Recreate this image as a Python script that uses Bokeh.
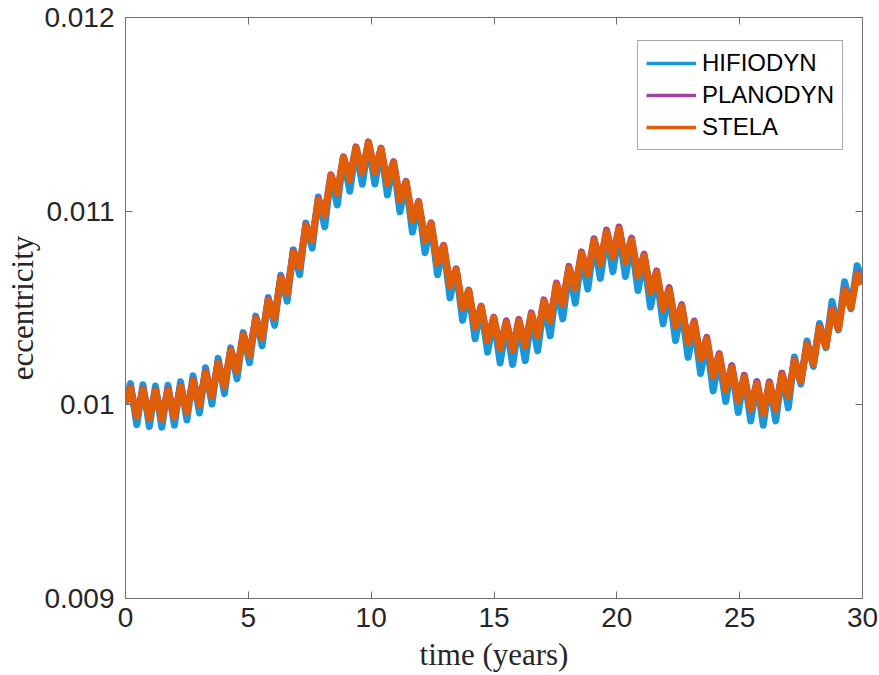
import numpy as np
from bokeh.plotting import figure
from bokeh.models import (FixedTicker, LinearAxis, Legend, LegendItem, Range1d,
                          CustomLabelingPolicy)
from bokeh.embed import file_html
from bokeh.resources import INLINE

# ---------------- data ----------------
# sample times (years) at the start, at each extremum of the ~half-year oscillation, and at the end
time_years = [0.00, 0.20, 0.46, 0.71, 0.97, 1.22, 1.48, 1.73, 1.99, 2.24, 2.50, 2.75, 3.01, 3.26, 3.52,
              3.77, 4.03, 4.28, 4.54, 4.79, 5.05, 5.30, 5.56, 5.81, 6.07, 6.32, 6.58, 6.83, 7.09, 7.34,
              7.60, 7.85, 8.11, 8.36, 8.62, 8.87, 9.13, 9.38, 9.64, 9.89, 10.15, 10.40, 10.66, 10.91,
              11.17, 11.42, 11.68, 11.93, 12.19, 12.44, 12.70, 12.95, 13.21, 13.46, 13.72, 13.97, 14.23,
              14.48, 14.74, 14.99, 15.25, 15.50, 15.76, 16.01, 16.27, 16.52, 16.78, 17.03, 17.29, 17.54,
              17.80, 18.05, 18.31, 18.56, 18.82, 19.07, 19.33, 19.58, 19.84, 20.09, 20.35, 20.60, 20.86,
              21.11, 21.37, 21.62, 21.88, 22.13, 22.39, 22.64, 22.90, 23.15, 23.41, 23.66, 23.92, 24.17,
              24.43, 24.68, 24.94, 25.19, 25.45, 25.70, 25.96, 26.21, 26.47, 26.72, 26.98, 27.23, 27.49,
              27.74, 28.00, 28.25, 28.51, 28.76, 29.02, 29.27, 29.53, 29.78, 30.00]

# eccentricity values in units of 1e-6
hifiodyn_e6 = [10007,
    10110, 9897, 10104, 9888, 10097, 9885, 10101, 9895, 10119, 9922,
    10150, 9958, 10191, 10004, 10240, 10058, 10294, 10134, 10373, 10217,
    10458, 10305, 10554, 10410, 10669, 10535, 10801, 10672, 10939, 10809,
    11073, 10919, 11183, 11032, 11276, 11103, 11327, 11139, 11353, 11140,
    11321, 11084, 11251, 10997, 11149, 10892, 11046, 10786, 10935, 10672,
    10819, 10553, 10697, 10437, 10588, 10341, 10505, 10272, 10448, 10216,
    10412, 10208, 10419, 10228, 10453, 10279, 10520, 10357, 10607, 10444,
    10693, 10525, 10768, 10598, 10836, 10653, 10880, 10688, 10896, 10663,
    10839, 10590, 10756, 10505, 10670, 10418, 10583, 10332, 10496, 10245,
    10411, 10162, 10326, 10072, 10243, 10017, 10202, 9960, 10152, 9917,
    10119, 9895, 10118, 9917, 10163, 9985, 10247, 10107, 10330, 10198,
    10420, 10295, 10534, 10387, 10636, 10496, 10718,
    10645]

planodyn_e6 = [10016,
    10089, 9940, 10083, 9931, 10076, 9928, 10080, 9938, 10098, 9965,
    10129, 10001, 10170, 10047, 10219, 10100, 10284, 10176, 10363, 10259,
    10448, 10347, 10544, 10452, 10659, 10577, 10791, 10714, 10929, 10851,
    11063, 10981, 11188, 11094, 11281, 11165, 11332, 11201, 11358, 11202,
    11326, 11146, 11256, 11059, 11154, 10954, 11051, 10848, 10940, 10734,
    10824, 10615, 10702, 10499, 10593, 10403, 10510, 10334, 10453, 10293,
    10434, 10285, 10441, 10305, 10475, 10356, 10542, 10434, 10629, 10521,
    10715, 10602, 10790, 10675, 10858, 10730, 10902, 10765, 10918, 10740,
    10861, 10667, 10778, 10582, 10692, 10495, 10605, 10409, 10518, 10322,
    10433, 10239, 10348, 10149, 10265, 10079, 10202, 10022, 10152, 9979,
    10119, 9957, 10118, 9979, 10163, 10047, 10232, 10124, 10315, 10215,
    10405, 10302, 10494, 10394, 10596, 10503, 10678,
    10627]

stela_e6 = [10015,
    10084, 9938, 10078, 9929, 10071, 9926, 10075, 9936, 10093, 9963,
    10124, 9999, 10165, 10045, 10214, 10098, 10279, 10174, 10358, 10257,
    10443, 10345, 10539, 10450, 10654, 10575, 10786, 10712, 10924, 10849,
    11058, 10979, 11183, 11092, 11276, 11163, 11327, 11199, 11353, 11200,
    11321, 11144, 11251, 11057, 11149, 10952, 11046, 10846, 10935, 10732,
    10819, 10613, 10697, 10497, 10588, 10401, 10505, 10332, 10448, 10291,
    10424, 10283, 10431, 10303, 10465, 10354, 10532, 10432, 10619, 10519,
    10705, 10600, 10780, 10673, 10848, 10728, 10892, 10763, 10908, 10738,
    10851, 10665, 10768, 10580, 10682, 10493, 10595, 10407, 10508, 10320,
    10423, 10237, 10338, 10147, 10255, 10077, 10192, 10020, 10142, 9977,
    10109, 9955, 10108, 9977, 10153, 10045, 10227, 10122, 10310, 10213,
    10400, 10300, 10489, 10392, 10591, 10501, 10673,
    10625]

series_names = ["HIFIODYN", "PLANODYN", "STELA"]
x_ticks = [0, 5, 10, 15, 20, 25, 30]
y_ticks = [0.009, 0.010, 0.011, 0.012]
y_tick_labels = ["0.009", "0.01", "0.011", "0.012"]

# ---------------- styling ----------------
colors = ["#1a97d8", "#a2449f", "#e05e08"]
axis_col = "#6f6f6f"
text_col = "#262626"
tick_font = "Liberation Sans"

t = np.array(time_years)
series = [np.array(hifiodyn_e6) * 1e-6, np.array(planodyn_e6) * 1e-6, np.array(stela_e6) * 1e-6]

p = figure(width=879, height=675, x_range=Range1d(0, 30), y_range=Range1d(0.009, 0.012),
           output_backend="svg", toolbar_location=None,
           min_border_left=125, min_border_right=17, min_border_top=17, min_border_bottom=77,
           x_axis_label="time (years)", y_axis_label="eccentricity")
p.xgrid.visible = False
p.ygrid.visible = False
p.outline_line_color = axis_col
p.outline_line_width = 1
p.background_fill_color = "white"
p.border_fill_color = "white"

# thin copies used only as legend samples (fully hidden beneath the data lines)
leg_r = [p.line(t, ys, line_color=c, line_width=3.5) for ys, c in zip(series, colors)]
for ys, c in zip(series, colors):
    p.line(t, ys, line_color=c, line_width=7, line_join="round")

def style_axis(ax, ticks):
    ax.ticker = FixedTicker(ticks=ticks)
    ax.axis_line_color = axis_col
    ax.major_tick_line_color = axis_col
    ax.major_tick_in = 7
    ax.major_tick_out = 0
    ax.minor_tick_line_color = None
    ax.major_label_text_font = tick_font
    ax.major_label_text_font_size = "28px"
    ax.major_label_text_color = text_col
    ax.axis_label_text_font = "Liberation Serif"
    ax.axis_label_text_font_style = "normal"
    ax.axis_label_text_font_size = "31px"
    ax.axis_label_text_color = text_col

xa = p.xaxis[0]
ya = p.yaxis[0]
style_axis(xa, x_ticks)
style_axis(ya, y_ticks)
xa.major_label_standoff = 9
xa.axis_label_standoff = 7
ya.major_label_standoff = 11
ya.axis_label_standoff = 1
ya.major_label_overrides = {v: s for v, s in zip(y_ticks, y_tick_labels)}

# mirrored tick marks on top and right (box on), without labels
no_labels = CustomLabelingPolicy(code="""
try { for (const i of Array.from(indices)) { indices.unset(i) } } catch (e) {}
return indices
""")
top_ax = LinearAxis()
style_axis(top_ax, x_ticks)
top_ax.major_label_standoff = 0
top_ax.major_label_text_font_size = "0px"
top_ax.major_label_policy = no_labels
p.add_layout(top_ax, "above")
right_ax = LinearAxis()
style_axis(right_ax, y_ticks)
right_ax.major_label_standoff = 0
right_ax.major_label_text_font_size = "0px"
right_ax.major_label_policy = no_labels
p.add_layout(right_ax, "right")

legend = Legend(items=[LegendItem(label=n, renderers=[r]) for n, r in zip(series_names, leg_r)],
                location=(512, 448), orientation="vertical",
                label_text_font=tick_font, label_text_font_size="24px", label_text_color="black",
                glyph_width=50, glyph_height=24, label_height=24, label_standoff=6,
                spacing=4, padding=8, margin=0,
                border_line_color="#555555", border_line_width=1,
                background_fill_color="white", background_fill_alpha=1.0)
p.add_layout(legend)

html = file_html(p, INLINE, "eccentricity")
with open("out.html", "w") as f:
    f.write(html)
